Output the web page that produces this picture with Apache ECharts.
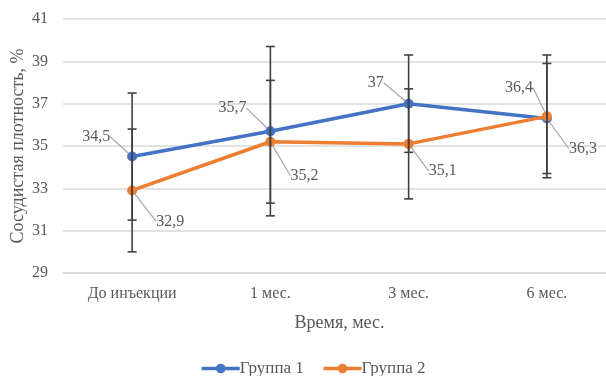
<!DOCTYPE html>
<html>
<head>
<meta charset="utf-8">
<script src="https://cdn.jsdelivr.net/npm/echarts@6/dist/echarts.min.js"></script>
<style>html,body{margin:0;padding:0;background:#fff}#c{width:606px;height:376px}</style>
</head>
<body>
<div id="c"></div>
<script>
var categories = ['До инъекции', '1 мес.', '3 мес.', '6 мес.'];
var group1 = [34.5, 35.7, 37, 36.3];
var group2 = [32.9, 35.2, 35.1, 36.4];
var group1Err = [3.0, 4.0, 2.3, 2.6];
var group2Err = [2.9, 2.9, 2.6, 2.9];
var seriesNames = ['Группа 1', 'Группа 2'];
var yTicks = [29, 31, 33, 35, 37, 39, 41];

var FONT = '"Liberation Serif", "Times New Roman", serif';
var TXT = '#595959';

function errData(vals, errs) {
  return vals.map(function (v, i) { return [i, v - errs[i], v + errs[i]]; });
}
function renderErr(params, api) {
  var x = api.value(0);
  var lo = api.coord([x, api.value(1)]);
  var hi = api.coord([x, api.value(2)]);
  var w = 4.5;
  var st = { stroke: '#404040', lineWidth: 1.6 };
  return {
    type: 'group',
    children: [
      { type: 'line', shape: { x1: lo[0], y1: lo[1], x2: hi[0], y2: hi[1] }, style: st },
      { type: 'line', shape: { x1: lo[0] - w, y1: lo[1], x2: lo[0] + w, y2: lo[1] }, style: st },
      { type: 'line', shape: { x1: hi[0] - w, y1: hi[1], x2: hi[0] + w, y2: hi[1] }, style: st }
    ]
  };
}

var offs1 = [[-36, -20], [-38, -23], [-33, -21], [36, 30]];
var offs2 = [[38, 31], [34, 34], [34, 27], [-28, -29]];

var chart = echarts.init(document.getElementById('c'), null, { renderer: 'canvas' });
var labelCommon = {
  show: true, position: 'inside', color: TXT, fontFamily: FONT, fontSize: 16,
  formatter: function (p) { return String(p.value).replace('.', ','); }
};
chart.setOption({
  animation: false,
  textStyle: { fontFamily: FONT },
  grid: { left: 63, top: 19, width: 553, height: 254, containLabel: false, outerBoundsMode: 'none' },
  xAxis: {
    type: 'category', data: categories, boundaryGap: true,
    axisLine: { show: true, lineStyle: { color: '#d9d9d9', width: 1.5 } },
    axisTick: { show: false },
    axisLabel: { color: TXT, fontFamily: FONT, fontSize: 16, margin: 13 },
    name: 'Время, мес.', nameLocation: 'middle', nameGap: 41, nameMoveOverlap: false,
    nameTextStyle: { color: TXT, fontFamily: FONT, fontSize: 18 }
  },
  yAxis: {
    type: 'value', min: yTicks[0], max: yTicks[yTicks.length - 1], interval: 2,
    axisLine: { show: false }, axisTick: { show: false },
    splitLine: { lineStyle: { color: '#d9d9d9', width: 1.5 } },
    axisLabel: { color: TXT, fontFamily: FONT, fontSize: 16, margin: 15 },
    name: 'Сосудистая плотность, %', nameLocation: 'middle', nameGap: 36, nameMoveOverlap: false,
    nameTextStyle: { color: TXT, fontFamily: FONT, fontSize: 18 }
  },
  legend: {
    left: 200, top: 360, itemWidth: 38, itemHeight: 12, itemGap: 18, padding: 0,
    lineStyle: { width: 3.5 },
    textStyle: { color: TXT, fontFamily: FONT, fontSize: 17, padding: [0, 0, 0, -5] },
    data: seriesNames
  },
  series: [
    {
      name: seriesNames[0], type: 'line', data: group1, z: 3,
      color: '#4472C4', lineStyle: { width: 3.5 }, symbol: 'circle', symbolSize: 10,
      label: labelCommon,
      labelLine: { show: true, lineStyle: { color: '#a6a6a6', width: 1.2 } },
      labelLayout: function (p) { var o = offs1[p.dataIndex]; return { dx: o[0], dy: o[1] }; }
    },
    {
      name: seriesNames[1], type: 'line', data: group2, z: 4,
      color: '#ED7D31', lineStyle: { width: 3.5 }, symbol: 'circle', symbolSize: 10,
      label: labelCommon,
      labelLine: { show: true, lineStyle: { color: '#a6a6a6', width: 1.2 } },
      labelLayout: function (p) { var o = offs2[p.dataIndex]; return { dx: o[0], dy: o[1] }; }
    },
    { type: 'custom', renderItem: renderErr, data: errData(group1, group1Err), z: 5, silent: true },
    { type: 'custom', renderItem: renderErr, data: errData(group2, group2Err), z: 5, silent: true }
  ]
});
</script>
</body>
</html>
